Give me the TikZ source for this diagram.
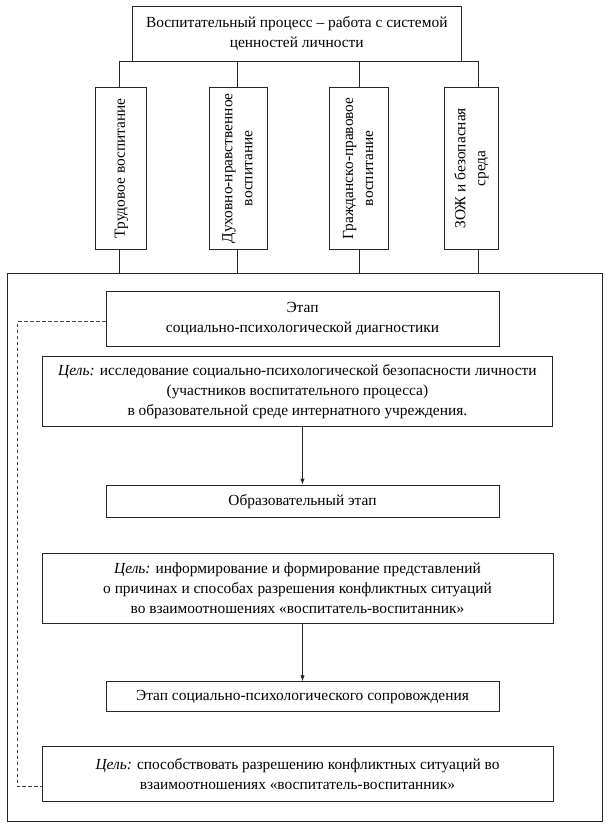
\documentclass[tikz,border=0pt]{standalone}
\usepackage{fontspec}
\setmainfont{Liberation Serif}
\usetikzlibrary{arrows.meta,calc}
\begin{document}
\begin{tikzpicture}[x=1pt,y=-1pt,
  box/.style={draw=black!85,line width=0.9pt,inner sep=0pt,align=center,font=\fontsize{15.4}{20}\selectfont},
  conn/.style={draw=black!85,line width=0.9pt},
  arr/.style={conn,-{Latex[length=6pt,width=4.5pt]}},
  dash line/.style={draw=black!75,line width=0.8pt,dash pattern=on 3.5pt off 2.5pt}]
\useasboundingbox (0,0) rectangle (608,825);
\fill[white] (0,0) rectangle (608,825);
% frame
\node[box,minimum width=594.2pt,minimum height=548.4pt] (frame) at (304.9,547.5) {};
% top
\node[box,minimum width=328.5pt,minimum height=55pt] (top) at (296.75,33.5) {Воспитательный процесс – работа с системой\\ценностей личности};
% vertical boxes
\node[box,minimum width=50.5pt,minimum height=162pt] (b1) at (120.75,168.3) {\rotatebox{90}{\begin{tabular}{@{}c@{}}Трудовое воспитание\end{tabular}}};
\node[box,minimum width=57.3pt,minimum height=162pt] (b2) at (238.35,168.3) {\rotatebox{90}{\begin{tabular}{@{}c@{}}Духовно-нравственное\\воспитание\end{tabular}}};
\node[box,minimum width=58.8pt,minimum height=162pt] (b3) at (359.1,168.3) {\rotatebox{90}{\begin{tabular}{@{}c@{}}Гражданско-правовое\\воспитание\end{tabular}}};
\node[box,minimum width=53.3pt,minimum height=162pt] (b4) at (471.35,168.3) {\rotatebox{90}{\begin{tabular}{@{}c@{}}ЗОЖ и безопасная\\среда\end{tabular}}};
% connectors top
\coordinate (l1) at (119,0);
\coordinate (l2) at (237.7,0);
\coordinate (l3) at (359.3,0);
\coordinate (l4) at (478.6,0);
\draw[conn] (l1 |- top.south) -- (l4 |- top.south);
\foreach \i in {1,...,4}{
  \draw[conn] (l\i |- top.south) -- (l\i |- b\i.north);
  \draw[conn] (l\i |- b\i.south) -- (l\i |- frame.north);
}
% stages
\node[box,minimum width=393pt,minimum height=55pt] (s1) at (302.5,319.2) {Этап\\социально-психологической диагностики};
\node[box,minimum width=510.6pt,minimum height=70pt] (g1) at (297.4,391.7) {\textit{Цель:} исследование социально-психологической безопасности личности\\(участников воспитательного процесса)\\в образовательной среде интернатного учреждения.};
\node[box,minimum width=393pt,minimum height=32.7pt] (s2) at (302.5,501.35) {Образовательный этап};
\node[box,minimum width=511pt,minimum height=70pt] (g2) at (297.5,588) {\textit{Цель:} информирование и формирование представлений\\о причинах и способах разрешения конфликтных ситуаций\\во взаимоотношениях «воспитатель-воспитанник»};
\node[box,minimum width=393pt,minimum height=30pt] (s3) at (302.5,696.7) {Этап социально-психологического сопровождения};
\node[box,minimum width=511pt,minimum height=55pt] (g3) at (297.5,774.2) {\textit{Цель:} способствовать разрешению конфликтных ситуаций во\\взаимоотношениях «воспитатель-воспитанник»};
% arrows
\draw[arr] (s2.north |- g1.south) -- (s2.north);
\draw[arr] (s3.north |- g2.south) -- (s3.north);
% dashed feedback
\coordinate (dl) at (17.5,0);
\coordinate (dy) at (0,786.7);
\draw[dash line] ([yshift=-2.5pt]s1.west) -| (dl |- dy) -- (g3.west |- dy);
\end{tikzpicture}
\end{document}
